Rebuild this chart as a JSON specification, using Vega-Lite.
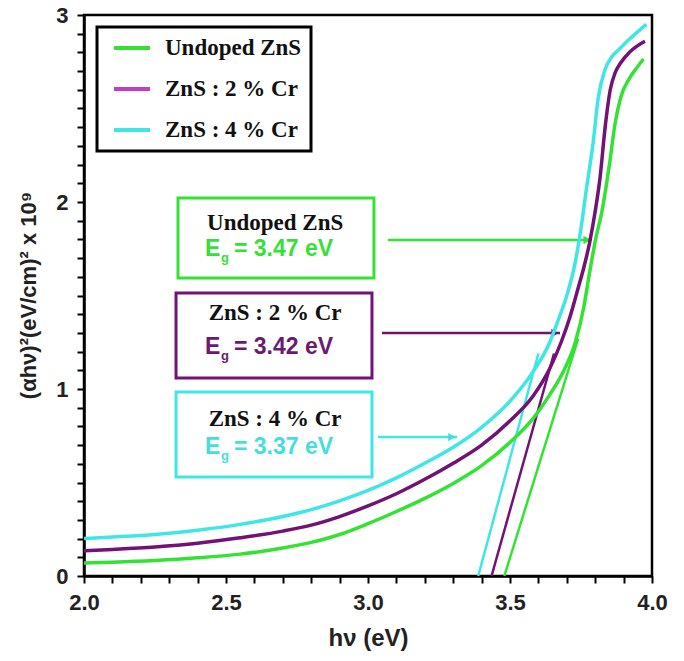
{
  "$schema": "https://vega.github.io/schema/vega-lite/v6.json",
  "width": 568,
  "height": 561,
  "autosize": {"type": "none"},
  "padding": {"left": 84, "top": 15, "right": 32, "bottom": 85},
  "background": "white",
  "datasets": {
    "curves": [
      {"s": "Undoped ZnS", "e": 2.00, "v": 0.070},
      {"s": "Undoped ZnS", "e": 2.10, "v": 0.074},
      {"s": "Undoped ZnS", "e": 2.25, "v": 0.083},
      {"s": "Undoped ZnS", "e": 2.40, "v": 0.097},
      {"s": "Undoped ZnS", "e": 2.55, "v": 0.117},
      {"s": "Undoped ZnS", "e": 2.70, "v": 0.150},
      {"s": "Undoped ZnS", "e": 2.80, "v": 0.180},
      {"s": "Undoped ZnS", "e": 2.90, "v": 0.222},
      {"s": "Undoped ZnS", "e": 3.00, "v": 0.280},
      {"s": "Undoped ZnS", "e": 3.10, "v": 0.345},
      {"s": "Undoped ZnS", "e": 3.20, "v": 0.415},
      {"s": "Undoped ZnS", "e": 3.30, "v": 0.495},
      {"s": "Undoped ZnS", "e": 3.40, "v": 0.590},
      {"s": "Undoped ZnS", "e": 3.50, "v": 0.715},
      {"s": "Undoped ZnS", "e": 3.58, "v": 0.840},
      {"s": "Undoped ZnS", "e": 3.64, "v": 0.970},
      {"s": "Undoped ZnS", "e": 3.69, "v": 1.100},
      {"s": "Undoped ZnS", "e": 3.73, "v": 1.250},
      {"s": "Undoped ZnS", "e": 3.76, "v": 1.440},
      {"s": "Undoped ZnS", "e": 3.78, "v": 1.620},
      {"s": "Undoped ZnS", "e": 3.80, "v": 1.790},
      {"s": "Undoped ZnS", "e": 3.825, "v": 1.960},
      {"s": "Undoped ZnS", "e": 3.85, "v": 2.200},
      {"s": "Undoped ZnS", "e": 3.87, "v": 2.420},
      {"s": "Undoped ZnS", "e": 3.89, "v": 2.560},
      {"s": "Undoped ZnS", "e": 3.92, "v": 2.660},
      {"s": "Undoped ZnS", "e": 3.95, "v": 2.725},
      {"s": "Undoped ZnS", "e": 3.97, "v": 2.765},
      {"s": "ZnS : 2 % Cr", "e": 2.00, "v": 0.135},
      {"s": "ZnS : 2 % Cr", "e": 2.10, "v": 0.142},
      {"s": "ZnS : 2 % Cr", "e": 2.25, "v": 0.155},
      {"s": "ZnS : 2 % Cr", "e": 2.40, "v": 0.175},
      {"s": "ZnS : 2 % Cr", "e": 2.55, "v": 0.204},
      {"s": "ZnS : 2 % Cr", "e": 2.70, "v": 0.240},
      {"s": "ZnS : 2 % Cr", "e": 2.80, "v": 0.272},
      {"s": "ZnS : 2 % Cr", "e": 2.90, "v": 0.318},
      {"s": "ZnS : 2 % Cr", "e": 3.00, "v": 0.375},
      {"s": "ZnS : 2 % Cr", "e": 3.10, "v": 0.440},
      {"s": "ZnS : 2 % Cr", "e": 3.20, "v": 0.517},
      {"s": "ZnS : 2 % Cr", "e": 3.30, "v": 0.603},
      {"s": "ZnS : 2 % Cr", "e": 3.40, "v": 0.700},
      {"s": "ZnS : 2 % Cr", "e": 3.50, "v": 0.830},
      {"s": "ZnS : 2 % Cr", "e": 3.58, "v": 0.960},
      {"s": "ZnS : 2 % Cr", "e": 3.64, "v": 1.110},
      {"s": "ZnS : 2 % Cr", "e": 3.68, "v": 1.250},
      {"s": "ZnS : 2 % Cr", "e": 3.71, "v": 1.380},
      {"s": "ZnS : 2 % Cr", "e": 3.74, "v": 1.540},
      {"s": "ZnS : 2 % Cr", "e": 3.76, "v": 1.650},
      {"s": "ZnS : 2 % Cr", "e": 3.78, "v": 1.780},
      {"s": "ZnS : 2 % Cr", "e": 3.80, "v": 1.950},
      {"s": "ZnS : 2 % Cr", "e": 3.817, "v": 2.130},
      {"s": "ZnS : 2 % Cr", "e": 3.835, "v": 2.400},
      {"s": "ZnS : 2 % Cr", "e": 3.853, "v": 2.600},
      {"s": "ZnS : 2 % Cr", "e": 3.87, "v": 2.690},
      {"s": "ZnS : 2 % Cr", "e": 3.89, "v": 2.745},
      {"s": "ZnS : 2 % Cr", "e": 3.92, "v": 2.800},
      {"s": "ZnS : 2 % Cr", "e": 3.975, "v": 2.860},
      {"s": "ZnS : 4 % Cr", "e": 2.00, "v": 0.200},
      {"s": "ZnS : 4 % Cr", "e": 2.10, "v": 0.208},
      {"s": "ZnS : 4 % Cr", "e": 2.25, "v": 0.222},
      {"s": "ZnS : 4 % Cr", "e": 2.40, "v": 0.245},
      {"s": "ZnS : 4 % Cr", "e": 2.55, "v": 0.276},
      {"s": "ZnS : 4 % Cr", "e": 2.70, "v": 0.318},
      {"s": "ZnS : 4 % Cr", "e": 2.80, "v": 0.355},
      {"s": "ZnS : 4 % Cr", "e": 2.90, "v": 0.402},
      {"s": "ZnS : 4 % Cr", "e": 3.00, "v": 0.458},
      {"s": "ZnS : 4 % Cr", "e": 3.10, "v": 0.525},
      {"s": "ZnS : 4 % Cr", "e": 3.20, "v": 0.603},
      {"s": "ZnS : 4 % Cr", "e": 3.30, "v": 0.688},
      {"s": "ZnS : 4 % Cr", "e": 3.40, "v": 0.795},
      {"s": "ZnS : 4 % Cr", "e": 3.50, "v": 0.935},
      {"s": "ZnS : 4 % Cr", "e": 3.58, "v": 1.090},
      {"s": "ZnS : 4 % Cr", "e": 3.64, "v": 1.250},
      {"s": "ZnS : 4 % Cr", "e": 3.67, "v": 1.370},
      {"s": "ZnS : 4 % Cr", "e": 3.70, "v": 1.500},
      {"s": "ZnS : 4 % Cr", "e": 3.73, "v": 1.680},
      {"s": "ZnS : 4 % Cr", "e": 3.75, "v": 1.860},
      {"s": "ZnS : 4 % Cr", "e": 3.77, "v": 2.080},
      {"s": "ZnS : 4 % Cr", "e": 3.793, "v": 2.320},
      {"s": "ZnS : 4 % Cr", "e": 3.81, "v": 2.550},
      {"s": "ZnS : 4 % Cr", "e": 3.835, "v": 2.710},
      {"s": "ZnS : 4 % Cr", "e": 3.86, "v": 2.780},
      {"s": "ZnS : 4 % Cr", "e": 3.88, "v": 2.810},
      {"s": "ZnS : 4 % Cr", "e": 3.92, "v": 2.870},
      {"s": "ZnS : 4 % Cr", "e": 3.98, "v": 2.950}
    ],
    "tangents": [
      {"s": "Undoped ZnS", "e": 3.48, "v": 0},
      {"s": "Undoped ZnS", "e": 3.74, "v": 1.27},
      {"s": "ZnS : 2 % Cr", "e": 3.435, "v": 0},
      {"s": "ZnS : 2 % Cr", "e": 3.655, "v": 1.19},
      {"s": "ZnS : 4 % Cr", "e": 3.388, "v": 0},
      {"s": "ZnS : 4 % Cr", "e": 3.6, "v": 1.19}
    ],
    "arrows": [
      {"s": "Undoped ZnS", "e": 3.07, "e2": 3.789, "v": 1.797},
      {"s": "ZnS : 2 % Cr", "e": 3.049, "e2": 3.676, "v": 1.299},
      {"s": "ZnS : 4 % Cr", "e": 3.035, "e2": 3.313, "v": 0.743}
    ],
    "boxes": [
      {"s": "Undoped ZnS", "e": 2.331, "e2": 3.021, "v": 2.021, "v2": 1.594},
      {"s": "ZnS : 2 % Cr", "e": 2.324, "e2": 3.014, "v": 1.513, "v2": 1.059},
      {"s": "ZnS : 4 % Cr", "e": 2.324, "e2": 3.014, "v": 0.984, "v2": 0.529}
    ],
    "titles": [
      {"s": "Undoped ZnS", "e": 2.673, "v": 1.888, "t": "Undoped ZnS"},
      {"s": "ZnS : 2 % Cr", "e": 2.673, "v": 1.406, "t": "ZnS : 2 % Cr"},
      {"s": "ZnS : 4 % Cr", "e": 2.673, "v": 0.840, "t": "ZnS : 4 % Cr"}
    ],
    "gaps": [
      {"s": "Undoped ZnS", "e": 2.426, "v": 1.749, "t": "= 3.47 eV"},
      {"s": "ZnS : 2 % Cr", "e": 2.426, "v": 1.225, "t": "= 3.42 eV"},
      {"s": "ZnS : 4 % Cr", "e": 2.426, "v": 0.690, "t": "= 3.37 eV"}
    ]
  },
  "encoding": {
    "x": {"field": "e", "type": "quantitative",
      "scale": {"domain": [2, 4], "nice": false, "zero": false},
      "axis": {
        "title": "hν (eV)",
        "values": [2.0, 2.1, 2.2, 2.3, 2.4, 2.5, 2.6, 2.7, 2.8, 2.9, 3.0, 3.1, 3.2, 3.3, 3.4, 3.5, 3.6, 3.7, 3.8, 3.9, 4.0],
        "labelExpr": "(round(datum.value*10) % 5 == 0) ? format(datum.value, '.1f') : ''",
        "labelPadding": 9,
        "titleFontSize": 24,
        "titleY": 62,
        "titleBaseline": "middle"
      }
    },
    "y": {"field": "v", "type": "quantitative",
      "scale": {"domain": [0, 3], "nice": false, "zero": false},
      "axis": {
        "title": "(αhν)²(eV/cm)² x 10⁹",
        "values": [0, 0.1, 0.2, 0.3, 0.4, 0.5, 0.6, 0.7, 0.8, 0.9, 1, 1.1, 1.2, 1.3, 1.4, 1.5, 1.6, 1.7, 1.8, 1.9, 2, 2.1, 2.2, 2.3, 2.4, 2.5, 2.6, 2.7, 2.8, 2.9, 3],
        "labelExpr": "(round(datum.value*10) % 10 == 0) ? format(datum.value, 'd') : ''",
        "labelPadding": 9,
        "titleFontSize": 22,
        "titleX": -56,
        "titleY": 280,
        "titleBaseline": "middle"
      }
    }
  },
  "layer": [
    {
      "data": {"name": "boxes"},
      "mark": {"type": "rect", "fill": "white", "strokeWidth": 3},
      "encoding": {
        "x2": {"field": "e2"},
        "y2": {"field": "v2"},
        "stroke": {"field": "s", "type": "nominal", "legend": null,
          "scale": {"domain": ["ZnS : 4 % Cr", "ZnS : 2 % Cr", "Undoped ZnS"], "range": ["#3ee6e6", "#721276", "#34e234"]}}
      }
    },
    {
      "data": {"name": "titles"},
      "mark": {"type": "text", "font": "Liberation Serif", "fontWeight": "bold", "fontSize": 23, "color": "#111", "align": "center", "baseline": "middle"},
      "encoding": {
        "text": {"field": "t"}
      }
    },
    {
      "data": {"name": "gaps"},
      "mark": {"type": "text", "font": "Liberation Sans", "fontWeight": "bold", "fontSize": 23, "align": "left", "baseline": "middle"},
      "encoding": {
        "text": {"value": "E"},
        "fill": {"field": "s", "type": "nominal", "legend": null,
          "scale": {"domain": ["ZnS : 4 % Cr", "ZnS : 2 % Cr", "Undoped ZnS"], "range": ["#44dede", "#6a1a72", "#34e234"]}}
      }
    },
    {
      "data": {"name": "gaps"},
      "mark": {"type": "text", "font": "Liberation Sans", "fontWeight": "bold", "fontSize": 13, "align": "left", "baseline": "middle", "dx": 16, "dy": 9},
      "encoding": {
        "text": {"value": "g"},
        "fill": {"field": "s", "type": "nominal", "legend": null}
      }
    },
    {
      "data": {"name": "gaps"},
      "mark": {"type": "text", "font": "Liberation Sans", "fontWeight": "bold", "fontSize": 23, "align": "left", "baseline": "middle", "dx": 29},
      "encoding": {
        "text": {"field": "t"},
        "fill": {"field": "s", "type": "nominal", "legend": null}
      }
    },
    {
      "data": {"name": "tangents"},
      "mark": {"type": "line", "strokeWidth": 2.5, "clip": true},
      "encoding": {
        "detail": {"field": "s"},
        "stroke": {"field": "s", "type": "nominal", "legend": null}
      }
    },
    {
      "data": {"name": "arrows"},
      "mark": {"type": "rule", "strokeWidth": 2.5},
      "encoding": {
        "x2": {"field": "e2"},
        "stroke": {"field": "s", "type": "nominal", "legend": null}
      }
    },
    {
      "data": {"name": "arrows"},
      "mark": {"type": "point", "shape": "triangle-right", "filled": true, "size": 70, "opacity": 1, "xOffset": -5},
      "encoding": {
        "x": {"field": "e2", "type": "quantitative"},
        "fill": {"field": "s", "type": "nominal", "legend": null}
      }
    },
    {
      "data": {"name": "curves"},
      "mark": {"type": "line", "strokeWidth": 1.5, "interpolate": "monotone", "clip": true},
      "encoding": {
        "color": {"field": "s", "type": "nominal",
          "scale": {"domain": ["Undoped ZnS", "ZnS : 2 % Cr", "ZnS : 4 % Cr"], "range": ["#34e234", "#c23cc6", "#3ee6e6"]},
          "legend": {
            "title": null,
            "orient": "none",
            "legendX": 13,
            "legendY": 12,
            "padding": 9,
            "symbolType": "M-1.8,0H1.8",
            "symbolSize": 400,
            "symbolStrokeWidth": 4,
            "symbolOffset": 14,
            "labelOffset": 21,
            "rowPadding": 17,
            "labelFont": "Liberation Serif",
            "labelFontWeight": "bold",
            "labelFontSize": 23,
            "labelColor": "#111",
            "labelLimit": 300,
            "fillColor": "white",
            "strokeColor": "black",
            "encode": {
              "legend": {"update": {"strokeWidth": {"value": 3}}}
            }
          }
        }
      }
    },
    {
      "data": {"name": "curves"},
      "mark": {"type": "line", "strokeWidth": 3.5, "interpolate": "monotone", "clip": true},
      "encoding": {
        "stroke": {"field": "s", "type": "nominal", "legend": null}
      }
    }
  ],
  "config": {
    "view": {"stroke": "black", "strokeWidth": 2.5},
    "axis": {
      "grid": false,
      "domainColor": "black",
      "domainWidth": 2.5,
      "tickColor": "black",
      "tickWidth": 2,
      "tickSize": 7,
      "labelFont": "Liberation Sans",
      "labelFontWeight": "bold",
      "labelFontSize": 22,
      "labelColor": "#222",
      "labelFlush": false,
      "labelOverlap": false,
      "labelBound": false,
      "titleFont": "Liberation Sans",
      "titleFontWeight": "bold",
      "titleColor": "#222"
    }
  }
}
